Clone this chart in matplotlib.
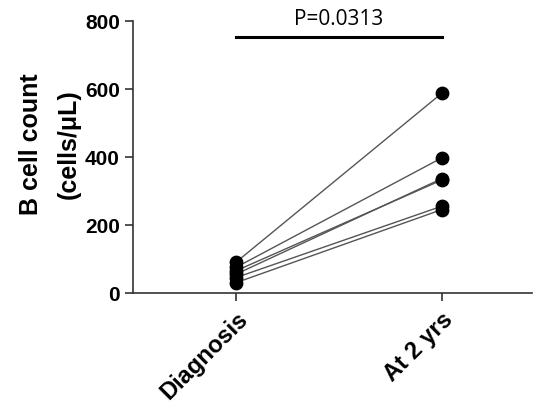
import matplotlib.pyplot as plt

groups = ["Diagnosis", "At 2 yrs"]
diagnosis = [90, 75, 55, 65, 45, 30]
at_2yrs = [587, 397, 336, 332, 255, 245]
p_text = "P=0.0313"

plt.rcParams["font.family"] = ["Liberation Sans", "DejaVu Sans"]

fig = plt.figure(figsize=(5.33, 4.06), dpi=100)
ax = fig.add_axes([0.2495, 0.276, 0.749, 0.670])

for d, a in zip(diagnosis, at_2yrs):
    ax.plot([0, 1], [d, a], color="#555555", lw=1.0, zorder=2)
ax.scatter([0] * len(diagnosis), diagnosis, s=80, color="black", zorder=3)
ax.scatter([1] * len(at_2yrs), at_2yrs, s=80, color="black", zorder=3)

# significance bar
ax.plot([0, 1], [753, 753], color="black", lw=2.2, clip_on=False)
ax.text(0.5, 808, p_text, ha="center", va="center", fontsize=15,
        family=["Open Sans", "DejaVu Sans"], clip_on=False)

ax.set_xlim(-0.5, 1.44)
ax.set_ylim(0, 800)
ax.set_yticks([0, 200, 400, 600, 800])
ax.set_xticks([0, 1])
ax.set_xticklabels(groups, rotation=45, ha="right", rotation_mode="anchor",
                   fontsize=17, fontweight="bold")
for lab in ax.get_yticklabels():
    lab.set_fontweight("bold")
    lab.set_fontsize(15)
ax.set_ylabel("B cell count\n(cells/\u03bcL)", fontsize=18, fontweight="bold",
              linespacing=1.75)
ax.yaxis.set_label_coords(-0.13, 0.55)

for s in ["top", "right"]:
    ax.spines[s].set_visible(False)
for s in ["left", "bottom"]:
    ax.spines[s].set_color("#333333")
    ax.spines[s].set_linewidth(1.2)
ax.tick_params(axis="both", colors="#333333", width=1.2, length=6,
               labelcolor="black")
ax.tick_params(axis="x", pad=4)

fig.savefig("out.png", dpi=100)
